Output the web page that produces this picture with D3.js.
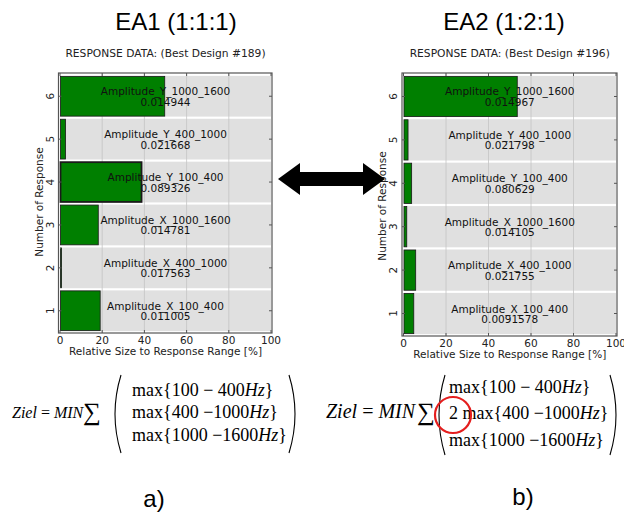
<!DOCTYPE html>
<html><head><meta charset="utf-8">
<script src="https://cdn.jsdelivr.net/npm/d3@7"></script>
<style>body{margin:0;background:#fff}svg{display:block}</style>
</head><body>
<script>
// ---- data ----
const responses = [1, 2, 3, 4, 5, 6];
const responseNames = ["Amplitude_X_100_400", "Amplitude_X_400_1000", "Amplitude_X_1000_1600",
  "Amplitude_Y_100_400", "Amplitude_Y_400_1000", "Amplitude_Y_1000_1600"];
const valuesA = ["0.011005", "0.017563", "0.014781", "0.089326", "0.021668", "0.014944"];
const relSizeA = [18.8, 0.5, 17.9, 38.4, 2.4, 49.4];
const valuesB = ["0.0091578", "0.021755", "0.014105", "0.080629", "0.021798", "0.014967"];
const relSizeB = [4.6, 5.5, 1.3, 3.6, 1.9, 53.3];
const xTicks = [0, 20, 40, 60, 80, 100];
const titles = ["EA1 (1:1:1)", "EA2 (1:2:1)"];
const subtitles = ["RESPONSE DATA: (Best Design #189)", "RESPONSE DATA: (Best Design #196)"];
const formulaRowsA = [["", "100 \u2212 400"], ["", "400 \u22121000"], ["", "1000 \u22121600"]];
const formulaRowsB = [["", "100 \u2212 400"], ["2 ", "400 \u22121000"], ["", "1000 \u22121600"]];
const panelLabels = ["a)", "b)"];

const W = 624, H = 522;
const svg = d3.select("body").append("svg").attr("width", W).attr("height", H);
const FONT = "DejaVu Sans, sans-serif";

function panel(cfg) {
  const g = svg.append("g");
  const x = d3.scaleLinear().domain([0, 100]).range([cfg.x0, cfg.x1]);
  const y = d3.scaleBand().domain(responses.slice().reverse()).range([cfg.y0, cfg.y1]).paddingInner(0.05).paddingOuter(0.02);
  g.append("text").attr("x", cfg.titleX).attr("y", 30).attr("text-anchor", "middle")
    .style("font", "24px 'Liberation Sans', Arial, sans-serif").text(cfg.title);
  g.append("text").attr("x", (cfg.x0 + cfg.x1) / 2).attr("y", 57).attr("text-anchor", "middle")
    .style("font-family", FONT).style("font-size", "10.7px").attr("fill", "#222").text(cfg.subtitle);
  g.selectAll(".bg").data(responses).join("rect")
    .attr("x", x(0)).attr("width", x(100) - x(0))
    .attr("y", d => y(d)).attr("height", y.bandwidth()).attr("fill", "#e0e0e0");
  g.selectAll(".grid").data(xTicks.slice(1, -1)).join("line")
    .attr("x1", d => x(d)).attr("x2", d => x(d)).attr("y1", cfg.fy0).attr("y2", cfg.fy1)
    .attr("stroke", "#c4c4c4").attr("stroke-width", 0.8);
  g.selectAll(".bar").data(responses).join("rect")
    .attr("x", x(0) + 0.5).attr("y", d => y(d) + 0.5)
    .attr("width", (d, i) => Math.max(1, x(cfg.rel[i]) - x(0)))
    .attr("height", y.bandwidth() - 1)
    .attr("fill", "#007f00").attr("stroke", "#1a1a1a").attr("stroke-width", (d, i) => (cfg.bold === i ? 1.8 : 0.8));
  g.append("rect").attr("x", cfg.fx0).attr("y", cfg.fy0).attr("width", cfg.fx1 - cfg.fx0).attr("height", cfg.fy1 - cfg.fy0)
    .attr("fill", "none").attr("stroke", "#555").attr("stroke-width", 1.2);
  xTicks.forEach(t => {
    g.append("line").attr("x1", x(t)).attr("x2", x(t)).attr("y1", cfg.fy0).attr("y2", cfg.fy0 + 3).attr("stroke", "#555");
    g.append("line").attr("x1", x(t)).attr("x2", x(t)).attr("y1", cfg.fy1).attr("y2", cfg.fy1 - 3).attr("stroke", "#555");
  });
  responses.forEach(r => {
    const cy = y(r) + y.bandwidth() / 2;
    g.append("line").attr("x1", cfg.fx0).attr("x2", cfg.fx0 + 3).attr("y1", cy).attr("y2", cy).attr("stroke", "#555");
    g.append("line").attr("x1", cfg.fx1).attr("x2", cfg.fx1 - 3).attr("y1", cy).attr("y2", cy).attr("stroke", "#555");
  });
  g.selectAll(".xt").data(xTicks).join("text")
    .attr("x", d => x(d)).attr("y", cfg.fy1 + 11).attr("text-anchor", "middle")
    .style("font-family", FONT).style("font-size", "10.5px").attr("fill", "#222").text(d => d);
  g.append("text").attr("x", (cfg.x0 + cfg.x1) / 2).attr("y", cfg.fy1 + 21.5).attr("text-anchor", "middle")
    .style("font-family", FONT).style("font-size", "10.5px").attr("fill", "#222").text("Relative Size to Response Range [%]");
  responses.forEach(r => {
    const cy = y(r) + y.bandwidth() / 2;
    g.append("text").attr("transform", `translate(${cfg.fx0 - 5},${cy}) rotate(-90)`)
      .attr("text-anchor", "middle").style("font-family", FONT).style("font-size", "10.5px").attr("fill", "#222").text(r);
  });
  g.append("text").attr("transform", `translate(${cfg.ylabX},${cfg.ylabY}) rotate(-90)`)
    .attr("text-anchor", "middle").style("font-family", FONT).style("font-size", "10.5px").attr("fill", "#222").text("Number of Response");
  responses.forEach((r, i) => {
    const cy = y(r) + y.bandwidth() / 2;
    const t = g.append("text").attr("text-anchor", "middle").style("font-family", FONT).style("font-size", "10.5px").attr("fill", "#111");
    t.append("tspan").attr("x", x(50)).attr("y", cy - 1).text(responseNames[i]);
    t.append("tspan").attr("x", x(50)).attr("y", cy + 9.5).text(cfg.values[i]);
  });
}

panel({ x0: 60, x1: 271, y0: 75, y1: 332, fx0: 58.5, fx1: 272, fy0: 73, fy1: 333,
  title: titles[0], titleX: 176, subtitle: subtitles[0], rel: relSizeA, values: valuesA, bold: 3, ylabX: 43, ylabY: 202 });
panel({ x0: 403.5, x1: 616, y0: 75, y1: 335, fx0: 402, fx1: 617, fy0: 73, fy1: 336,
  title: titles[1], titleX: 504, subtitle: subtitles[1], rel: relSizeB, values: valuesB, bold: -1, ylabX: 386, ylabY: 206 });

// double arrow
const ax0 = 278, ax1 = 385, ay = 179, hl = 22, hh = 16, bh = 7;
svg.append("path").attr("fill", "#000").attr("d",
  `M${ax0},${ay} L${ax0 + hl},${ay - hh} L${ax0 + hl},${ay - bh} L${ax1 - hl},${ay - bh} L${ax1 - hl},${ay - hh} L${ax1},${ay} L${ax1 - hl},${ay + hh} L${ax1 - hl},${ay + bh} L${ax0 + hl},${ay + bh} L${ax0 + hl},${ay + hh} Z`);

// formulas
function formula(c) {
  const f = svg.append("g").style("font-family", "'Liberation Serif', 'Times New Roman', serif");
  const t = f.append("text").attr("x", c.ox).attr("y", c.base).style("font-size", c.fs + "px");
  t.append("tspan").style("font-style", "italic").text("Ziel");
  t.append("tspan").text(" = ");
  t.append("tspan").style("font-style", "italic").text("MIN");
  f.append("text").attr("x", c.sumX).attr("y", c.base + 2).style("font-size", "25px").text("\u2211");
  const px = c.parenX, top = c.top, bot = c.bot;
  f.append("path").attr("d", `M${px + 7},${top} Q${px - 5},${(top + bot) / 2} ${px + 7},${bot}`).attr("fill", "none").attr("stroke", "#000").attr("stroke-width", 1.1);
  c.rows.forEach((r, i) => {
    const tt = f.append("text").attr("x", c.rowX).attr("y", c.rowY[i]).style("font-size", "18px");
    if (r[0]) tt.append("tspan").text(r[0]);
    tt.append("tspan").text("max{" + r[1]);
    tt.append("tspan").style("font-style", "italic").text("Hz");
    tt.append("tspan").text("}");
  });
  const qx = c.rightX;
  f.append("path").attr("d", `M${qx - 7},${top} Q${qx + 5},${(top + bot) / 2} ${qx - 7},${bot}`).attr("fill", "none").attr("stroke", "#000").attr("stroke-width", 1.1);
}
formula({ ox: 12, fs: 16, sumX: 83, base: 418, parenX: 114, rowX: 132, rightX: 296,
  rows: formulaRowsA, rowY: [396, 418, 441], top: 375, bot: 453 });
formula({ ox: 326, fs: 20, sumX: 417, base: 418, parenX: 438, rowX: 449, rightX: 617,
  rows: formulaRowsB, rowY: [393, 419, 446], top: 375, bot: 455 });
svg.append("circle").attr("cx", 453).attr("cy", 415).attr("r", 18).attr("fill", "none").attr("stroke", "#e41e1e").attr("stroke-width", 2.2);

svg.selectAll(".pl").data(panelLabels).join("text")
  .attr("x", (d, i) => [154, 523][i]).attr("y", (d, i) => [507, 505][i]).attr("text-anchor", "middle")
  .style("font", "24px 'Liberation Sans', Arial, sans-serif").text(d => d);
</script>
</body></html>
